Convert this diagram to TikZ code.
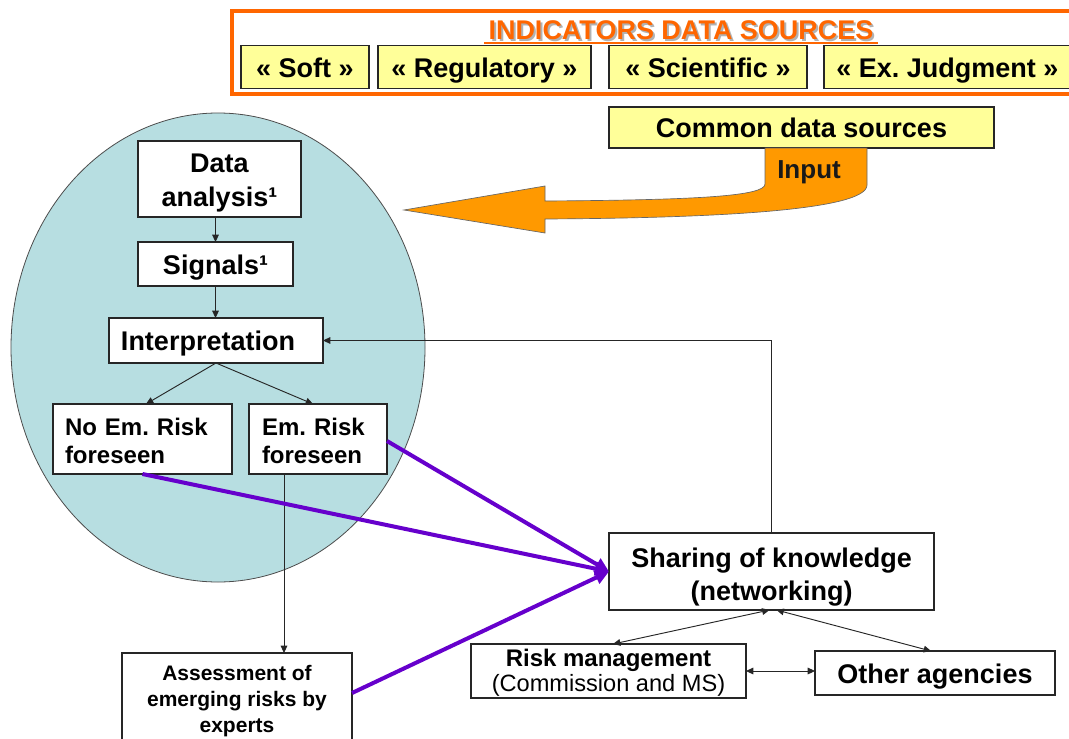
\documentclass[tikz,border=0pt]{standalone}
\usepackage{fontspec}
\setmainfont{Liberation Sans}
\usetikzlibrary{arrows.meta,calc}
\definecolor{orangeA}{RGB}{255,102,0}
\definecolor{orangeB}{RGB}{255,153,0}
\definecolor{yel}{RGB}{255,255,153}
\definecolor{ellfill}{RGB}{183,222,225}
\definecolor{purp}{RGB}{102,0,204}
\frenchspacing
\tikzset{
  box/.style={draw=black!85, line width=0.9pt, fill=white, inner sep=0pt, outer sep=0pt, align=center, font=\fontsize{20.25}{25.5}\selectfont\bfseries},
  onebox/.style={box, text height=15.5pt, text depth=0pt},
  ybox/.style={onebox, fill=yel},
  leftbox/.style={box, align=left, inner ysep=0pt, font=\fontsize{18}{21}\selectfont\bfseries},
  arr/.style={draw=black!85, line width=0.7pt, -{Triangle[length=5.5pt,width=5pt]}},
  darr/.style={draw=black!85, line width=0.7pt, {Triangle[length=5.5pt,width=5pt]}-{Triangle[length=5.5pt,width=5pt]}},
  parr/.style={draw=purp, line width=3pt, -{Triangle[length=10.5pt,width=10pt]}}
}
\begin{document}
\begin{tikzpicture}[x=0.75pt,y=-0.75pt]
\useasboundingbox (0,0) rectangle (1069,738);
\clip (0,0) rectangle (1069,738);
\fill[white] (0,0) rectangle (1069,738);

% header frame
\draw[orangeA, line width=2.4pt] (232,11) rectangle (1090,94);
\node[text=black!30, font=\fontsize{20.25}{24}\selectfont\bfseries] (titleshadow) at (683,32) {INDICATORS DATA SOURCES};
\node[text=orangeA, font=\fontsize{20.25}{24}\selectfont\bfseries] (title) at (681,30) {INDICATORS DATA SOURCES};
\draw[orangeA, line width=1.6pt] (title.south west) ++(0,-1) coordinate (ul1) -- (ul1 -| title.south east);

\node[ybox, minimum width=96pt, minimum height=32.25pt] (soft) at (305,67) {« Soft »};
\node[ybox, minimum width=159.75pt, minimum height=32.25pt] (reg) at (484.5,67) {« Regulatory »};
\node[ybox, minimum width=148.5pt, minimum height=32.25pt] (sci) at (708,67) {« Scientific »};
\node[ybox, minimum width=189pt, minimum height=32.25pt] (exj) at (950,67) {« Ex. Judgment »\hspace{4pt}};

\node[ybox, minimum width=288.75pt, minimum height=30.75pt] (common) at (801.5,127.5) {Common data sources};

% orange input arrow
\draw[fill=orangeB, draw=black!60, line width=0.5pt]
  (765,148) -- (765,184) .. controls (765,196) and (700,200) .. (545,201)
  -- (545,186) -- (404,210) -- (545,233) -- (545,219)
  .. controls (720,218) and (867,210) .. (867,185) -- (867,148) -- cycle;
\node[font=\fontsize{19.5}{22}\selectfont\bfseries, text=black!90] (input) at (809,172) {Input};

% ellipse
\draw[fill=ellfill, draw=black!70, line width=0.6pt] (218,347.5) ellipse [x radius=207, y radius=234.5];

\node[box, minimum width=122.25pt, minimum height=57pt] (da) at (219.5,179) {\rule{0pt}{20.5pt}Data\\analysis¹};
\node[onebox, minimum width=116.25pt, minimum height=33pt] (sig) at (215.5,264) {Signals¹};
\node[onebox, minimum width=160.5pt, minimum height=33.75pt] (interp) at (216,340.5) {Interpretation\hspace{12pt}};
\node[leftbox, minimum width=134.25pt, minimum height=52.5pt, text width=116.25pt, inner xsep=9pt] (noem) at (142.5,439) {\rule{0pt}{15.9pt}No Em. Risk\\foreseen};
\node[leftbox, minimum width=103.5pt, minimum height=52.5pt, text width=84pt, inner xsep=9.75pt] (em) at (318,439) {\rule{0pt}{15.9pt}Em. Risk\\foreseen};

\node[box, minimum width=172.5pt, minimum height=67.5pt, font=\fontsize{15.75}{19.5}\selectfont\bfseries] (assess) at (237,698) {\rule{0pt}{16pt}Assessment of\\emerging risks by\\experts};

\node[box, minimum width=243.75pt, minimum height=57.75pt, font=\fontsize{20.25}{24.75}\selectfont\bfseries] (share) at (771.5,571.5) {\rule{0pt}{22.3pt}Sharing of knowledge\\(networking)};
\node[box, minimum width=206.25pt, minimum height=40.5pt, font=\fontsize{18}{18.75}\selectfont\bfseries] (rm) at (608.5,671) {\rule{0pt}{16.1pt}Risk management\\{\fontsize{17.7}{18.75}\selectfont\mdseries (Commission and MS)}};
\node[onebox, minimum width=180pt, minimum height=33pt] (oa) at (935,673) {Other agencies};

% black connectors
\draw[arr] (sig.north |- da.south) -- (sig.north);
\draw[arr] (sig.south) -- (sig.south |- interp.north);
\draw[arr] (interp.south) -- ($(noem.north)+(3.5,0)$);
\draw[arr] (interp.south) -- ($(em.north)+(-5,0)$);
\coordinate (emout) at ($(em.south)+(-34,0)$);
\draw[arr] (emout) -- (emout |- assess.north);
\draw[arr] (share.north) |- (interp.east);

% purple connectors
\draw[parr] (noem.south) -- (share.west);
\draw[parr] ($(em.east)+(0,2)$) -- (share.west);
\draw[parr] ($(assess.east)+(0,-5)$) -- (share.west);

% double arrows
\draw[darr] ($(share.south)+(-2,0)$) -- ($(rm.north)+(4.5,0)$);
\draw[darr] ($(share.south)+(5,0)$) -- ($(oa.north)+(-4,0)$);
\draw[darr] (rm.east) -- (rm.east -| oa.west);
\end{tikzpicture}
\end{document}
